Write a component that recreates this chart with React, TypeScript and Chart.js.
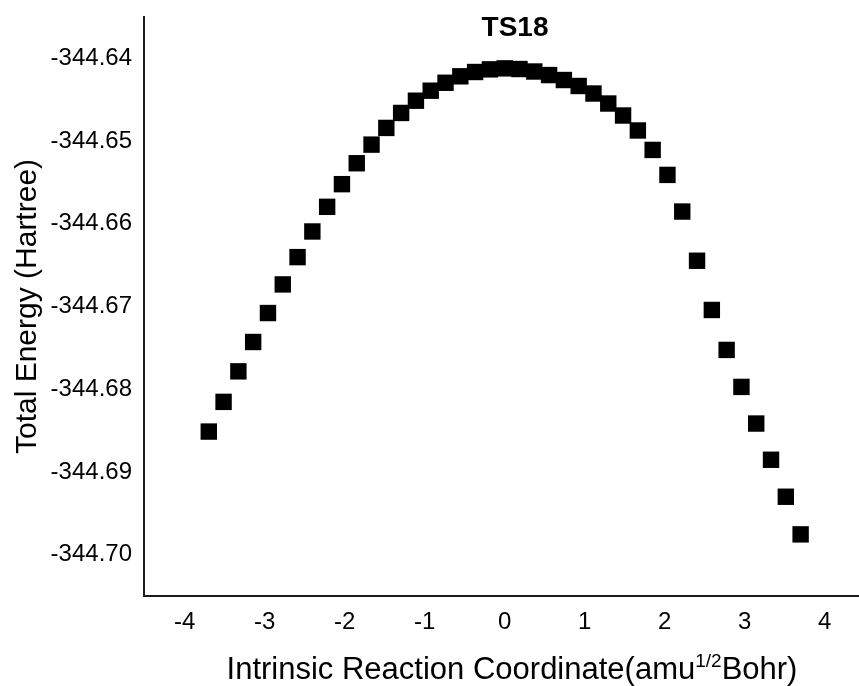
import React, { useEffect, useRef } from "react";
import { Chart, registerables } from "chart.js";

Chart.register(...registerables);

const IRC_X: number[] = [
  -3.7, -3.515, -3.33, -3.145, -2.96, -2.775, -2.59, -2.405, -2.22, -2.035,
  -1.85, -1.665, -1.48, -1.295, -1.11, -0.925, -0.74, -0.555, -0.37, -0.185,
  0, 0.185, 0.37, 0.555, 0.74, 0.925, 1.11, 1.295, 1.48, 1.665,
  1.85, 2.035, 2.22, 2.405, 2.59, 2.775, 2.96, 3.145, 3.33, 3.515, 3.7,
];

const ENERGY: number[] = [
  -344.68512, -344.68153, -344.67784, -344.67429, -344.67079, -344.66733, -344.66403,
  -344.66093, -344.65795, -344.65521, -344.65268, -344.65043, -344.64841, -344.6466,
  -344.64512, -344.64391, -344.64295, -344.64217, -344.64165, -344.64133, -344.64121,
  -344.64129, -344.64159, -344.64202, -344.64262, -344.64334, -344.64425, -344.64546,
  -344.64691, -344.64872, -344.65107, -344.65409, -344.65852, -344.66447, -344.67042,
  -344.67525, -344.67972, -344.68415, -344.68853, -344.693, -344.69755,
];

const X_TICKS: number[] = [-4, -3, -2, -1, 0, 1, 2, 3, 4];
const Y_TICKS: number[] = [-344.7, -344.69, -344.68, -344.67, -344.66, -344.65, -344.64];

const TITLE = "TS18";
const Y_TITLE = "Total Energy (Hartree)";
const X_TITLE_MAIN = "Intrinsic Reaction Coordinate(amu";
const X_TITLE_SUP = "1/2";
const X_TITLE_END = "Bohr)";

const FONT = "'Liberation Sans', Arial, Helvetica, sans-serif";

const textPlugin = {
  id: "customText",
  afterDraw(chart: any) {
    const ctx = chart.ctx;
    ctx.save();
    ctx.fillStyle = "#000";
    // Title
    ctx.font = `bold 28px ${FONT}`;
    ctx.textAlign = "center";
    ctx.textBaseline = "middle";
    ctx.fillText(TITLE, 515, 28);

    // X axis title with superscript
    const mainFont = `31px ${FONT}`;
    const supFont = `19px ${FONT}`;
    ctx.textAlign = "left";
    ctx.textBaseline = "alphabetic";
    ctx.font = mainFont;
    const w1 = ctx.measureText(X_TITLE_MAIN).width;
    const w3 = ctx.measureText(X_TITLE_END).width;
    ctx.font = supFont;
    const w2 = ctx.measureText(X_TITLE_SUP).width;
    const total = w1 + w2 + w3;
    const cx = 512;
    const baseY = chart.height - 7;
    let x = cx - total / 2;
    ctx.font = mainFont;
    ctx.fillText(X_TITLE_MAIN, x, baseY);
    x += w1;
    ctx.font = supFont;
    ctx.fillText(X_TITLE_SUP, x, baseY - 12);
    x += w2;
    ctx.font = mainFont;
    ctx.fillText(X_TITLE_END, x, baseY);
    ctx.restore();
  },
};

const zeroPadding = (scale: any) => {
  scale.paddingTop = 0;
  scale.paddingBottom = 0;
  scale.paddingLeft = 0;
  scale.paddingRight = 0;
};

export default function App() {
  const canvasRef = useRef<HTMLCanvasElement | null>(null);

  useEffect(() => {
    document.body.style.margin = "0";
    document.body.style.overflow = "hidden";
    const canvas = canvasRef.current;
    if (!canvas) return;
    const points = IRC_X.map((x, i) => ({ x, y: ENERGY[i] }));
    const chart = new Chart(canvas, {
      type: "scatter",
      data: {
        datasets: [
          {
            label: "TS18",
            data: points,
            pointStyle: "rect",
            pointRadius: 11.6,
            pointHoverRadius: 11.6,
            pointBorderWidth: 0,
            backgroundColor: "#000",
            borderColor: "#000",
            showLine: false,
          },
        ],
      },
      options: {
        responsive: false,
        animation: false,
        devicePixelRatio: 1,
        layout: { autoPadding: false, padding: { top: 17, right: 0, left: 0, bottom: 0 } },
        plugins: {
          legend: { display: false },
          tooltip: { enabled: false },
          title: { display: false },
        },
        scales: {
          x: {
            type: "linear",
            min: -4.51,
            max: 4.43,
            grid: { display: false, drawTicks: false },
            border: { display: true, color: "#1a1a1a", width: 2 },
            ticks: {
              color: "#000",
              font: { family: FONT, size: 24 },
              padding: 12,
              autoSkip: false,
              maxRotation: 0,
              callback: (v: any) => String(v),
            },
            afterBuildTicks: (scale: any) => {
              scale.ticks = X_TICKS.map((v) => ({ value: v }));
            },
            afterFit: (scale: any) => {
              scale.height = 90;
              zeroPadding(scale);
            },
          },
          y: {
            type: "linear",
            min: -344.705,
            max: -344.635,
            grid: { display: false, drawTicks: false },
            border: { display: true, color: "#1a1a1a", width: 2 },
            ticks: {
              color: "#000",
              font: { family: FONT, size: 24 },
              padding: 12,
              autoSkip: false,
              callback: (v: any) => Number(v).toFixed(2),
            },
            afterBuildTicks: (scale: any) => {
              scale.ticks = Y_TICKS.map((v) => ({ value: v }));
            },
            afterFit: (scale: any) => {
              scale.width = 144;
              zeroPadding(scale);
            },
            title: {
              display: true,
              text: Y_TITLE,
              color: "#000",
              font: { family: FONT, size: 30 },
              padding: { top: 10, bottom: 0 },
            },
          },
        },
      },
      plugins: [textPlugin],
    });
    return () => chart.destroy();
  }, []);

  return (
    <div style={{ width: 859, height: 686, position: "relative", background: "#fff" }}>
      <canvas ref={canvasRef} width={859} height={686} style={{ display: "block" }} />
    </div>
  );
}
